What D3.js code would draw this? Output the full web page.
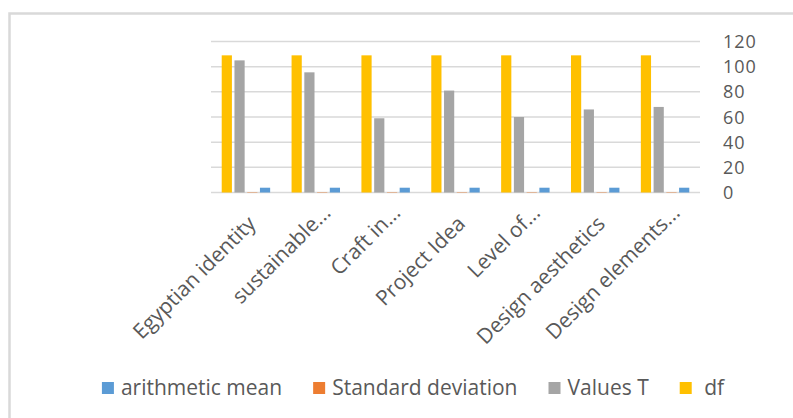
<!DOCTYPE html>
<html>
<head>
<meta charset="utf-8">
<script src="https://cdn.jsdelivr.net/npm/d3@7"></script>
<style>
  html, body { margin: 0; padding: 0; background: #fff; }
  svg { display: block; font-family: "Open Sans", sans-serif; }
</style>
</head>
<body>
<svg id="chart" width="793" height="418"></svg>
<script>
// ---- data ----
const categories = ["Egyptian identity", "sustainable...", "Craft in...", "Project Idea", "Level of...", "Design aesthetics", "Design elements..."];
const seriesNames = ["arithmetic mean", "Standard deviation", "Values T", "df"];
const arithmeticMean = [3.8, 3.8, 3.8, 3.8, 3.8, 3.8, 3.8];
const standardDeviation = [0.3, 0.3, 0.3, 0.3, 0.3, 0.3, 0.3];
const valuesT = [105, 95.5, 59, 81, 60, 66, 68];
const df = [109, 109, 109, 109, 109, 109, 109];
const yTicks = [0, 20, 40, 60, 80, 100, 120];
const colors = ["#5B9BD5", "#ED7D31", "#A5A5A5", "#FFC000"];

const seriesValues = [arithmeticMean, standardDeviation, valuesT, df];
// bars within a group are drawn in reverse series order (df first)
const drawOrder = [3, 2, 1, 0];

const svg = d3.select("#chart");
svg.append("rect").attr("width", 793).attr("height", 418).attr("fill", "#fff");
// chart border (only top and left edges visible)
svg.append("rect").attr("x", 9.5).attr("y", 13.5).attr("width", 900).attr("height", 500)
  .attr("fill", "none").attr("stroke", "#d9d9d9").attr("stroke-width", 2.5);

const plot = { left: 211, right: 700, top: 41.5, bottom: 192.5 };
const y = d3.scaleLinear().domain([0, 120]).range([plot.bottom, plot.top]);
const x0 = d3.scaleBand().domain(categories).range([plot.left, plot.right]).paddingInner(0).paddingOuter(0);
const x1 = d3.scaleBand().domain(drawOrder).range([0, x0.bandwidth()]).paddingInner(0.2).paddingOuter(0.84);

// gridlines
svg.append("g").selectAll("line").data(yTicks).join("line")
  .attr("x1", plot.left).attr("x2", plot.right)
  .attr("y1", d => y(d)).attr("y2", d => y(d))
  .attr("stroke", "#d9d9d9").attr("stroke-width", 1.5);

// right axis labels
const yAxis = d3.axisRight(y).tickValues(yTicks).tickSize(0).tickPadding(0);
const ya = svg.append("g").attr("transform", "translate(723,0)").call(yAxis);
ya.select(".domain").remove();
ya.selectAll("text").attr("font-size", 18).attr("fill", "#595959")
  .attr("letter-spacing", "1px")
  .attr("font-family", "Open Sans, sans-serif").attr("dy", "0.34em");

// bars
const groups = svg.append("g").selectAll("g").data(categories).join("g")
  .attr("transform", d => `translate(${x0(d)},0)`);
groups.selectAll("rect")
  .data((c, i) => drawOrder.map(s => ({ s, v: seriesValues[s][i] })))
  .join("rect")
  .attr("x", d => x1(d.s))
  .attr("width", x1.bandwidth())
  .attr("y", d => y(d.v))
  .attr("height", d => y(0) - y(d.v))
  .attr("fill", d => colors[d.s]);

// category labels (rotated)
svg.append("g").selectAll("text").data(categories).join("text")
  .attr("transform", d => {
    const c = x0(d) + x0.bandwidth() / 2;
    const trunc = d.endsWith("...");
    return `translate(${c + (trunc ? 16 : 11)},${trunc ? 214 : 225}) rotate(-45)`;
  })
  .attr("text-anchor", "end")
  .attr("font-size", 21).attr("fill", "#595959")
  .text(d => d);

// legend
const legend = svg.append("g");
const items = seriesNames.map((n, i) => ({ name: i === 3 ? " " + n : n, color: colors[i] }));
const lg = legend.selectAll("g").data(items).join("g");
lg.append("rect").attr("width", 12).attr("height", 12).attr("y", -6).attr("fill", d => d.color);
lg.append("text").attr("x", 19).attr("dy", "0.35em").attr("font-size", 21).attr("fill", "#595959")
  .style("white-space", "pre").text(d => d.name);
let xpos = 0;
const widths = [];
lg.each(function (d) {
  const w = d3.select(this).select("text").node().getComputedTextLength();
  widths.push(w);
});
const pos = [];
widths.forEach((w, i) => { pos.push(xpos); xpos += 19 + w + 31; });
const total = xpos - 31;
const startX = 413 - total / 2;
lg.attr("transform", (d, i) => `translate(${startX + pos[i]},388)`);
</script>
</body>
</html>
